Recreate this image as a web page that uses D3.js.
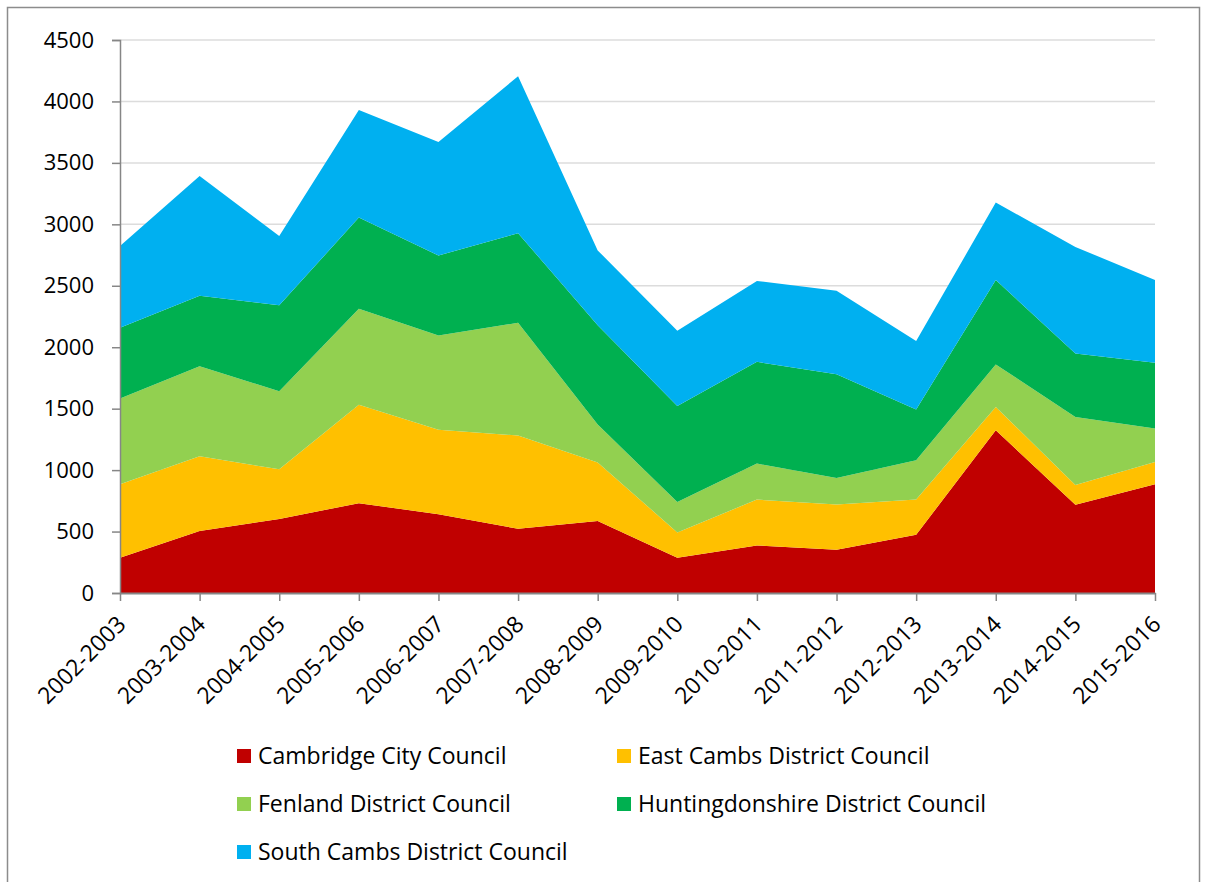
<!DOCTYPE html>
<html>
<head>
<meta charset="utf-8">
<script src="https://cdn.jsdelivr.net/npm/d3@7"></script>
<style>
  html, body { margin: 0; padding: 0; background: #fff; }
  svg { display: block; font-family: "Open Sans", Lato, sans-serif; }
</style>
</head>
<body>
<svg id="chart" width="1205" height="882"></svg>
<script>
const years = ["2002-2003","2003-2004","2004-2005","2005-2006","2006-2007","2007-2008","2008-2009",
               "2009-2010","2010-2011","2011-2012","2012-2013","2013-2014","2014-2015","2015-2016"];
const seriesNames = ["Cambridge City Council","East Cambs District Council","Fenland District Council",
                     "Huntingdonshire District Council","South Cambs District Council"];
const cambridgeCity   = [287, 504, 602, 731, 641, 523, 585, 287, 387, 352, 474, 1324, 719, 884];
const eastCambs       = [597, 608, 404, 800, 687, 758, 477, 206, 373, 369, 286, 190, 160, 182];
const fenland         = [699, 734, 636, 783, 767, 918, 309, 247, 293, 215, 320, 346, 554, 272];
const huntingdonshire = [575, 573, 699, 741, 651, 729, 808, 782, 828, 845, 413, 687, 516, 535];
const southCambs      = [666, 975, 564, 875, 925, 1277, 609, 612, 658, 679, 557, 630, 867, 674];
const yTicks = [0, 500, 1000, 1500, 2000, 2500, 3000, 3500, 4000, 4500];
const colors = ["#C00000", "#FFC000", "#92D050", "#00B050", "#00B0F0"];

const seriesValues = [cambridgeCity, eastCambs, fenland, huntingdonshire, southCambs];
const keys = ["s0","s1","s2","s3","s4"];
const table = years.map((yr, i) => {
  const row = { year: yr };
  keys.forEach((k, j) => row[k] = seriesValues[j][i]);
  return row;
});

const svg = d3.select("#chart");
const plotLeft = 120, plotRight = 1155, plotTop = 40, plotBottom = 593;
const FONT = "'Open Sans', Lato, sans-serif";

// outer border
svg.append("rect").attr("x", 7.5).attr("y", 7.5).attr("width", 1192).attr("height", 900)
  .attr("fill", "none").attr("stroke", "#8c8c8c").attr("stroke-width", 1.5);

const x = d3.scalePoint().domain(years).range([plotLeft, plotRight]);
const y = d3.scaleLinear().domain([0, 4500]).range([plotBottom, plotTop]);

// gridlines
svg.append("g").selectAll("line").data(yTicks.filter(d => d > 0)).join("line")
  .attr("x1", plotLeft).attr("x2", plotRight)
  .attr("y1", d => y(d)).attr("y2", d => y(d))
  .attr("stroke", "#dcdcdc").attr("stroke-width", 1.5);

const stacked = d3.stack().keys(keys)(table);
const area = d3.area()
  .x(d => x(d.data.year))
  .y0(d => y(d[0]))
  .y1(d => y(d[1]));

svg.append("g").selectAll("path").data(stacked).join("path")
  .attr("d", area)
  .attr("fill", (d, i) => colors[i]);

// y axis
const yAxis = d3.axisLeft(y).tickValues(yTicks).tickSize(8).tickPadding(18).tickFormat(d3.format("d"));
const gy = svg.append("g").attr("transform", `translate(${plotLeft},0)`).call(yAxis);
gy.select(".domain").attr("stroke", "#868686").attr("stroke-width", 1.5);
gy.selectAll(".tick line").attr("stroke", "#868686").attr("stroke-width", 1.5);
gy.selectAll(".tick text").attr("font-size", 22).attr("font-family", FONT).attr("fill", "#000");

// x axis
const xAxis = d3.axisBottom(x).tickSize(8).tickSizeOuter(0);
const gx = svg.append("g").attr("transform", `translate(0,${plotBottom})`).call(xAxis);
gx.select(".domain").attr("stroke", "#868686").attr("stroke-width", 2);
gx.selectAll(".tick line").attr("stroke", "#868686").attr("stroke-width", 1.5);
gx.selectAll(".tick text")
  .attr("font-size", 23).attr("font-family", FONT).attr("fill", "#000")
  .attr("text-anchor", "end")
  .attr("x", 0).attr("y", 0).attr("dy", "0.35em")
  .attr("transform", "translate(1,27) rotate(-45)");

// legend
const legendPos = [[237, 756], [617, 756], [237, 804], [617, 804], [237, 852]];
const lg = svg.append("g").selectAll("g").data(seriesNames).join("g")
  .attr("transform", (d, i) => `translate(${legendPos[i][0]},${legendPos[i][1]})`);
lg.append("rect").attr("x", 0).attr("y", -7).attr("width", 14).attr("height", 14)
  .attr("fill", (d, i) => colors[i]);
lg.append("text").attr("x", 21).attr("y", 0).attr("dy", "0.35em")
  .attr("font-size", 23).attr("font-family", FONT).attr("fill", "#000")
  .text(d => d);
</script>
</body>
</html>
